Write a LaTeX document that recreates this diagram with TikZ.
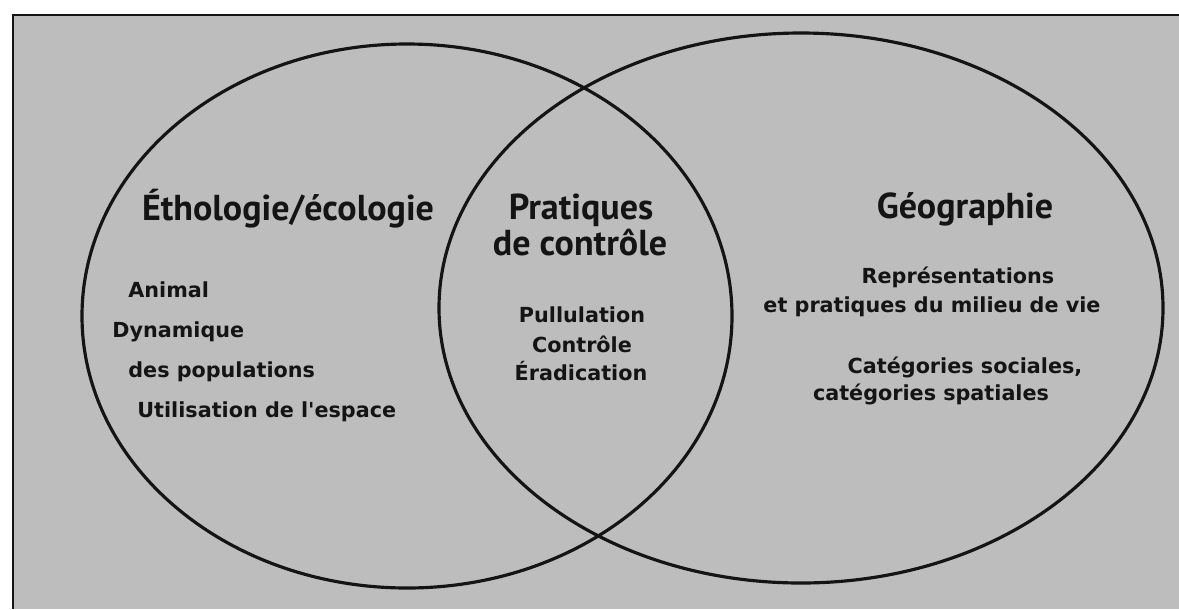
\documentclass[tikz,border=0pt]{standalone}
\usepackage{fontspec}
\usepackage{xcolor}
\usepackage{tikz}
\newfontfamily\headfont{PT Sans}
\newfontfamily\itemfont{DejaVu Sans}
\definecolor{scangray}{RGB}{189,189,189}
\definecolor{inkblack}{RGB}{20,20,20}
\tikzset{
    textnode/.style = {inner sep=0pt, text=inkblack},
    head_node/.style = {textnode, anchor=base, font=\headfont\bfseries\fontsize{20.5}{23}\selectfont},
    item_node/.style = {textnode, anchor=base, font=\itemfont\bfseries\fontsize{11.8}{14}\selectfont},
    left_item/.style = {item_node, anchor=base west},
    venn_line/.style = {draw=inkblack, line width=1.8pt}
}
\begin{document}
\begin{tikzpicture}
            [x=0.02cm, y=-0.02cm]

            \useasboundingbox (0,0) rectangle (1179,609);
            \fill[white] (0,0) rectangle (1179,609);
            \fill[scangray] (13,15) rectangle (1179,609);
            \draw[inkblack, line width=1.4pt] (13,609) -- (13,15) -- (1179,15);

            \draw[venn_line] (407,316) ellipse [x radius=325, y radius=272];
            \draw[venn_line] (801,308) ellipse [x radius=362, y radius=275];

            \node (etho) [head_node] at (288,220) {Éthologie/écologie};
            \node (prat) [head_node] at (581,219) {Pratiques};
            \node (ctrl) [head_node] at (580,255) {de contrôle};
            \node (geo) [head_node] at (965,218) {Géographie};

            \node (animal) [left_item] at (128,297) {Animal};
            \node (dyn) [left_item] at (112,337) {Dynamique};
            \node (pop) [left_item] at (128,377) {des populations};
            \node (esp) [left_item] at (137,417) {Utilisation de l'espace};

            \node (pull) [item_node] at (582,322) {Pullulation};
            \node (contr) [item_node] at (582,352) {Contrôle};
            \node (erad) [item_node] at (581,380) {Éradication};

            \node (repr) [item_node] at (958,283) {Représentations};
            \node (milieu) [item_node] at (932,312) {et pratiques du milieu de vie};
            \node (soc) [item_node] at (965,373) {Catégories sociales,};
            \node (spat) [item_node] at (931,400) {catégories spatiales};
\end{tikzpicture}
\end{document}
